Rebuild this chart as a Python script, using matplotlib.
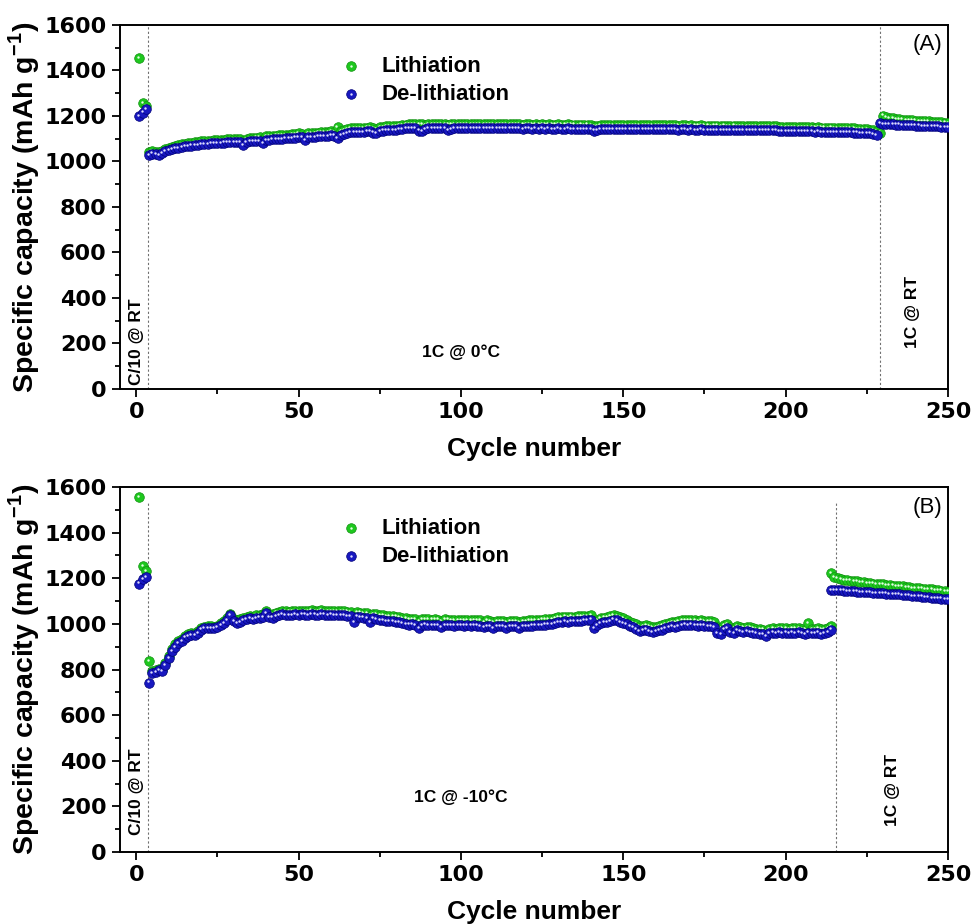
import numpy as np
import matplotlib
matplotlib.use("Agg")
import matplotlib.pyplot as plt
from matplotlib.transforms import offset_copy
from matplotlib.legend_handler import HandlerTuple

plt.rcParams['font.family'] = 'Liberation Sans'
plt.rcParams['mathtext.fontset'] = 'custom'
plt.rcParams['mathtext.rm'] = 'Liberation Sans'
plt.rcParams['mathtext.bf'] = 'Liberation Sans:bold'

# ---- panel A : 1C @ 0 C ----
a_deli_1 = [1200, 1215, 1232, 1030, 1035, 1033, 1028, 1038, 1045, 1049,
            1053, 1057, 1060, 1064, 1066, 1068, 1070, 1072, 1074, 1075,
            1076, 1078, 1079, 1080, 1081, 1082, 1083, 1084, 1084, 1085,
            1086, 1086, 1072, 1085, 1088, 1089, 1090, 1091, 1080, 1096,
            1096, 1097, 1098, 1099, 1100, 1101, 1102, 1104, 1105, 1107,
            1106, 1095, 1106, 1108, 1109, 1110, 1111, 1112, 1113, 1115,
            1114, 1104, 1118, 1122, 1126, 1129, 1130, 1130, 1131, 1131,
            1132, 1133, 1127, 1125, 1133, 1136, 1137, 1138, 1139, 1140,
            1141, 1144, 1145, 1145, 1146, 1145, 1136, 1134, 1143, 1146,
            1146, 1147, 1146, 1147, 1145, 1140, 1141, 1147, 1148, 1147,
            1146, 1147, 1147, 1146, 1147, 1147, 1146, 1147, 1146, 1147,
            1146, 1147, 1146, 1145, 1146, 1145, 1146, 1145, 1144, 1145,
            1145, 1144, 1145, 1144, 1145, 1144, 1145, 1144, 1144, 1145,
            1144, 1144, 1145, 1144, 1144, 1143, 1144, 1143, 1144, 1143,
            1136, 1137, 1142, 1143, 1142, 1143, 1142, 1143, 1142, 1142,
            1143, 1142, 1142, 1143, 1142, 1142, 1141, 1142, 1142, 1141,
            1142, 1141, 1141, 1142, 1141, 1141, 1140, 1141, 1141, 1140,
            1141, 1140, 1140, 1141, 1140, 1140, 1139, 1140, 1140, 1139,
            1140, 1139, 1139, 1140, 1139, 1139, 1138, 1139, 1138, 1139,
            1138, 1138, 1139, 1138, 1138, 1137, 1138, 1134, 1133, 1134,
            1133, 1133, 1134, 1133, 1132, 1133, 1132, 1132, 1131, 1132,
            1131, 1131, 1130, 1131, 1130, 1129, 1130, 1129, 1128, 1128,
            1127, 1127, 1126, 1125, 1124, 1123, 1121, 1118]
a_deli_2 = [1168, 1166, 1165, 1164, 1163, 1162, 1162, 1161, 1160, 1160,
            1159, 1158, 1158, 1157, 1156, 1156, 1155, 1154, 1154, 1153,
            1152, 1151]
a_li_1 = [1455, 1255, 1245, 1042, 1045, 1043, 1040, 1048, 1055, 1060,
          1064, 1068, 1071, 1075, 1078, 1080, 1082, 1084, 1086, 1088,
          1089, 1091, 1092, 1093, 1094, 1095, 1096, 1097, 1097, 1098,
          1099, 1100, 1090, 1099, 1103, 1104, 1105, 1106, 1098, 1112,
          1112, 1113, 1114, 1115, 1116, 1117, 1118, 1120, 1121, 1123,
          1122, 1113, 1123, 1125, 1126, 1127, 1128, 1129, 1130, 1132,
          1131, 1152, 1135, 1139, 1143, 1146, 1147, 1147, 1148, 1148,
          1149, 1150, 1145, 1143, 1150, 1153, 1154, 1155, 1156, 1157,
          1158, 1161, 1162, 1163, 1164, 1165, 1166, 1163, 1161, 1164,
          1164, 1165, 1164, 1165, 1164, 1162, 1163, 1166, 1166, 1165,
          1164, 1165, 1165, 1164, 1165, 1165, 1164, 1165, 1164, 1165,
          1164, 1165, 1164, 1163, 1164, 1163, 1164, 1163, 1162, 1163,
          1163, 1162, 1163, 1162, 1163, 1162, 1163, 1162, 1162, 1163,
          1162, 1162, 1163, 1162, 1162, 1161, 1162, 1161, 1162, 1161,
          1156, 1157, 1160, 1161, 1160, 1161, 1160, 1161, 1160, 1160,
          1161, 1160, 1160, 1161, 1160, 1160, 1159, 1160, 1160, 1159,
          1160, 1159, 1159, 1160, 1159, 1159, 1158, 1159, 1159, 1158,
          1159, 1158, 1158, 1159, 1158, 1158, 1157, 1158, 1158, 1157,
          1158, 1157, 1157, 1158, 1157, 1157, 1156, 1157, 1156, 1157,
          1156, 1156, 1157, 1156, 1156, 1155, 1156, 1153, 1152, 1152,
          1151, 1151, 1152, 1151, 1150, 1151, 1150, 1150, 1149, 1150,
          1149, 1149, 1148, 1149, 1148, 1147, 1148, 1147, 1146, 1146,
          1145, 1144, 1143, 1142, 1141, 1139, 1137, 1133, 1127]
a_li_2 = [1202, 1196, 1192, 1189, 1187, 1185, 1184, 1183, 1182, 1181,
          1180, 1179, 1178, 1177, 1176, 1175, 1174, 1173, 1172, 1171,
          1170]

# ---- panel B : 1C @ -10 C ----
b_deli_1 = [1177, 1195, 1207, 743, 785, 790, 796, 792, 820, 850,
            880, 900, 916, 925, 940, 948, 950, 952, 960, 975,
            980, 982, 982, 980, 985, 995, 1005, 1015, 1040, 1012,
            1005, 1010, 1015, 1020, 1025, 1020, 1025, 1028, 1030, 1048,
            1030, 1028, 1035, 1040, 1045, 1040, 1038, 1040, 1042, 1040,
            1042, 1041, 1040, 1042, 1041, 1040, 1042, 1041, 1040, 1041,
            1040, 1038, 1039, 1037, 1036, 1034, 1007, 1032, 1030, 1028,
            1026, 1008, 1024, 1020, 1017, 1015, 1013, 1012, 1011, 1010,
            1008, 1005, 1000, 997, 998, 996, 982, 995, 997, 996,
            995, 996, 994, 985, 996, 995, 994, 993, 995, 994,
            993, 994, 993, 994, 993, 992, 985, 992, 990, 982,
            990, 991, 990, 984, 991, 990, 989, 982, 990, 991,
            992, 993, 994, 995, 996, 997, 998, 999, 1005, 1008,
            1010, 1011, 1010, 1012, 1011, 1013, 1014, 1016, 1018, 1019,
            982, 995, 1005, 1008, 1010, 1013, 1019, 1016, 1010, 1005,
            998, 990, 985, 978, 968, 972, 975, 970, 966, 968,
            972, 975, 980, 985, 990, 988, 992, 995, 997, 995,
            997, 995, 993, 994, 993, 992, 990, 988, 960, 957,
            975, 980, 965, 961, 972, 968, 965, 970, 966, 962,
            960, 957, 955, 948, 958, 962, 960, 963, 961, 962,
            960, 962, 961, 963, 958, 955, 962, 960, 958, 962,
            957, 960, 965, 975]
b_deli_2 = [1150, 1149, 1148, 1147, 1146, 1145, 1144, 1143, 1142, 1141,
            1140, 1139, 1138, 1137, 1136, 1135, 1134, 1133, 1132, 1131,
            1130, 1129, 1127, 1126, 1125, 1124, 1122, 1121, 1120, 1118,
            1117, 1115, 1114, 1112, 1111, 1109, 1107]
b_li_1 = [1556, 1253, 1231, 836, 792, 797, 803, 800, 830, 860,
          890, 910, 925, 935, 948, 955, 958, 960, 968, 983,
          988, 990, 990, 988, 993, 1003, 1013, 1025, 1045, 1022,
          1015, 1020, 1025, 1030, 1035, 1032, 1037, 1040, 1043, 1058,
          1045, 1045, 1050, 1053, 1056, 1055, 1054, 1056, 1058, 1057,
          1058, 1058, 1057, 1059, 1058, 1058, 1059, 1058, 1057, 1058,
          1057, 1055, 1056, 1055, 1054, 1053, 1040, 1051, 1050, 1048,
          1046, 1038, 1044, 1042, 1040, 1038, 1036, 1035, 1033, 1032,
          1030, 1027, 1024, 1022, 1022, 1021, 1012, 1020, 1021, 1020,
          1019, 1020, 1019, 1012, 1020, 1019, 1018, 1017, 1018, 1017,
          1016, 1017, 1016, 1017, 1016, 1015, 1010, 1015, 1013, 1008,
          1013, 1014, 1013, 1008, 1014, 1013, 1012, 1007, 1013, 1014,
          1015, 1016, 1017, 1018, 1019, 1020, 1021, 1022, 1026, 1029,
          1031, 1032, 1031, 1032, 1031, 1033, 1034, 1035, 1036, 1037,
          1005, 1015, 1025, 1028, 1030, 1033, 1038, 1035, 1030, 1025,
          1018, 1010, 1005, 998, 990, 992, 995, 990, 987, 988,
          992, 995, 1000, 1005, 1010, 1008, 1012, 1015, 1018, 1016,
          1018, 1016, 1014, 1015, 1014, 1013, 1011, 1009, 985, 982,
          995, 998, 985, 982, 990, 987, 984, 988, 985, 981,
          979, 976, 975, 970, 977, 980, 979, 981, 980, 980,
          979, 980, 980, 981, 978, 975, 1004, 979, 977, 980,
          976, 978, 982, 990]
b_li_2 = [1224, 1205, 1200, 1197, 1194, 1192, 1190, 1188, 1186, 1184,
          1182, 1181, 1179, 1177, 1176, 1174, 1173, 1171, 1170, 1168,
          1167, 1165, 1164, 1162, 1161, 1159, 1158, 1157, 1155, 1154,
          1152, 1151, 1149, 1148, 1146, 1145, 1142]

green, green_edge, green_hi = '#1ec81e', '#0f8f0f', '#e6ffe6'
blue, blue_edge, blue_hi = '#1818c0', '#000078', '#dcdcff'


def balls(ax, x, y, c, ec, hi):
    # sphere-ish marker: body + small highlight
    ax.scatter(x, y, s=48, c=c, edgecolors=ec, linewidths=0.5, zorder=3)
    tr = offset_copy(ax.transData, fig=ax.figure, x=-0.8, y=0.8, units='points')
    ax.scatter(x, y, s=3, c=hi, linewidths=0, transform=tr, zorder=3)


def panel(ax, li1, li2, de1, de2, start_li2, start_de2, xline, yline_top,
          cond, cond_y, c10_y, rt_x, rt_y, tag):
    x_li1 = np.arange(1, len(li1) + 1)
    x_de1 = np.arange(1, len(de1) + 1)
    x_li2 = np.arange(start_li2, start_li2 + len(li2))
    x_de2 = np.arange(start_de2, start_de2 + len(de2))
    balls(ax, x_li1, li1, green, green_edge, green_hi)
    balls(ax, x_li2, li2, green, green_edge, green_hi)
    balls(ax, x_de1, de1, blue, blue_edge, blue_hi)
    balls(ax, x_de2, de2, blue, blue_edge, blue_hi)

    for xv in (3.6, xline):
        ax.plot([xv, xv], [0, yline_top], ls=(0, (2, 2)), lw=0.8, color='#707070', zorder=1)

    ax.set_xlim(-5, 250)
    ax.set_ylim(0, 1600)
    ax.set_xticks(np.arange(0, 251, 50))
    ax.set_xticks(np.arange(25, 251, 50), minor=True)
    ax.set_yticks(np.arange(0, 1601, 200))
    ax.set_yticks(np.arange(100, 1600, 200), minor=True)
    ax.tick_params(which='major', direction='out', length=6, width=1.3, top=False, right=False)
    ax.tick_params(which='minor', direction='out', length=3.5, width=1.3, top=False, right=False)
    for lab in ax.get_xticklabels() + ax.get_yticklabels():
        lab.set_fontfamily('DejaVu Sans')
        lab.set_fontweight('bold')
        lab.set_fontsize(16)
    for sp in ax.spines.values():
        sp.set_linewidth(1.4)

    ax.set_xlabel('Cycle number', fontsize=19, fontweight='bold', labelpad=11)
    ax.set_ylabel(r'Specific capacity (mAh g$^{\mathbf{-1}}$)', fontsize=20.5,
                  fontweight='bold', labelpad=2)

    ax.text(0, c10_y, 'C/10 @ RT', rotation=90, ha='center', va='bottom',
            fontsize=12.5, fontweight='bold')
    ax.text(100, cond_y, cond, ha='center', va='center', fontsize=12.5, fontweight='bold')
    ax.text(rt_x, rt_y, '1C @ RT', rotation=90, ha='center', va='center',
            fontsize=12.5, fontweight='bold')
    ax.text(0.993, 0.945, tag, transform=ax.transAxes, ha='right', va='center', fontsize=16)

    # legend
    lg = ax.scatter([], [], s=48, c=green, edgecolors=green_edge, linewidths=0.5)
    lgh = ax.scatter([], [], s=3, c=green_hi, linewidths=0)
    lb = ax.scatter([], [], s=48, c=blue, edgecolors=blue_edge, linewidths=0.5)
    lbh = ax.scatter([], [], s=3, c=blue_hi, linewidths=0)
    ax.legend([(lg, lgh), (lb, lbh)], ['Lithiation', 'De-lithiation'],
              handler_map={tuple: HandlerTuple(ndivide=1)},
              loc='upper left', bbox_to_anchor=(0.242, 0.97), frameon=False,
              prop={'size': 16, 'weight': 'bold'}, handlelength=1.0,
              handletextpad=0.85, labelspacing=0.3, scatterpoints=1)


fig = plt.figure(figsize=(9.73, 9.24), dpi=100)
ax1 = fig.add_axes([0.1233, 0.5790, 0.8510, 0.3940])
ax2 = fig.add_axes([0.1233, 0.0779, 0.8510, 0.3950])

panel(ax1, a_li_1, a_li_2, a_deli_1, a_deli_2, 230, 229, 229.2, 1600,
      '1C @ 0°C', 163, 18, 239, 338, '(A)')
panel(ax2, b_li_1, b_li_2, b_deli_1, b_deli_2, 214, 214, 215.6, 1540,
      '1C @ -10°C', 241, 75, 233, 272, '(B)')

fig.savefig('out.png', dpi=100)
